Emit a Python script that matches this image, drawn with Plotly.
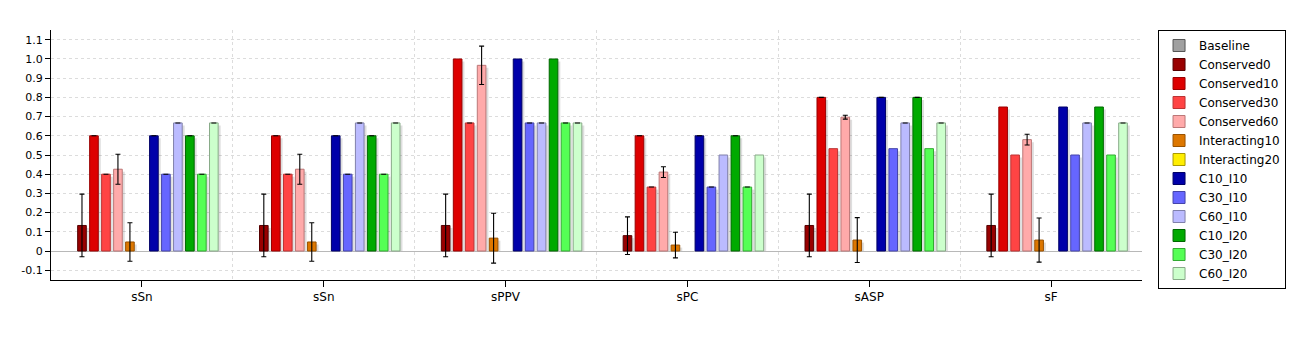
import numpy as np
import plotly.graph_objects as go

categories = ["sSn", "sSn", "sPPV", "sPC", "sASP", "sF"]
y_tick_vals = [-0.1, 0, 0.1, 0.2, 0.3, 0.4, 0.5, 0.6, 0.7, 0.8, 0.9, 1.0, 1.1]
y_tick_text = ["-0.1", "0", "0.1", "0.2", "0.3", "0.4", "0.5", "0.6", "0.7", "0.8", "0.9", "1.0", "1.1"]

baseline = [0, 0, 0, 0, 0, 0]
baseline_err = [None, None, None, None, None, None]
conserved0 = [0.133, 0.133, 0.133, 0.08, 0.133, 0.133]
conserved0_err = [0.163, 0.163, 0.163, 0.098, 0.163, 0.163]
conserved10 = [0.6, 0.6, 1.0, 0.6, 0.8, 0.75]
conserved10_err = [0, 0, None, 0, 0, None]
conserved30 = [0.4, 0.4, 0.667, 0.333, 0.533, 0.5]
conserved30_err = [0, 0, 0, 0, None, None]
conserved60 = [0.426, 0.426, 0.967, 0.411, 0.697, 0.58]
conserved60_err = [0.078, 0.078, 0.1, 0.028, 0.01, 0.028]
interacting10 = [0.047, 0.047, 0.067, 0.031, 0.057, 0.057]
interacting10_err = [0.1, 0.1, 0.13, 0.067, 0.117, 0.115]
interacting20 = [0, 0, 0, 0, 0, 0]
interacting20_err = [None, None, None, None, None, None]
c10_i10 = [0.6, 0.6, 1.0, 0.6, 0.8, 0.75]
c10_i10_err = [0, 0, None, 0, 0, None]
c30_i10 = [0.4, 0.4, 0.667, 0.333, 0.533, 0.5]
c30_i10_err = [0, 0, 0, 0, None, None]
c60_i10 = [0.667, 0.667, 0.667, 0.5, 0.667, 0.667]
c60_i10_err = [0, 0, 0, None, 0, 0]
c10_i20 = [0.6, 0.6, 1.0, 0.6, 0.8, 0.75]
c10_i20_err = [0, 0, None, 0, 0, None]
c30_i20 = [0.4, 0.4, 0.667, 0.333, 0.533, 0.5]
c30_i20_err = [0, 0, 0, 0, None, None]
c60_i20 = [0.667, 0.667, 0.667, 0.5, 0.667, 0.667]
c60_i20_err = [0, 0, 0, None, 0, 0]

series = [
    ("Baseline", baseline, baseline_err, "#a0a0a0", "#555555"),
    ("Conserved0", conserved0, conserved0_err, "#990000", "#550000"),
    ("Conserved10", conserved10, conserved10_err, "#dd0000", "#990000"),
    ("Conserved30", conserved30, conserved30_err, "#ff4444", "#bb3333"),
    ("Conserved60", conserved60, conserved60_err, "#ffaaaa", "#bb7777"),
    ("Interacting10", interacting10, interacting10_err, "#dd7700", "#995200"),
    ("Interacting20", interacting20, interacting20_err, "#ffee00", "#aa9900"),
    ("C10_I10", c10_i10, c10_i10_err, "#0000aa", "#000066"),
    ("C30_I10", c30_i10, c30_i10_err, "#6666ff", "#4444aa"),
    ("C60_I10", c60_i10, c60_i10_err, "#bbbbff", "#8080aa"),
    ("C10_I20", c10_i20, c10_i20_err, "#00aa00", "#006600"),
    ("C30_I20", c30_i20, c30_i20_err, "#55ff55", "#33aa33"),
    ("C60_I20", c60_i20, c60_i20_err, "#ccffcc", "#88aa88"),
]

x_pos = list(range(len(categories)))
FONT = "DejaVu Sans"

# group layout (in category units): 13 slots per category
group_width = 0.857
slot = group_width / len(series)
bar_w = slot * 0.72
px = 1.0 / 181.8          # one pixel in category units
shadow_dx = 2.5 * px
shadow_dy = 0.013


def drawn(vals):
    # zero-height bars are not drawn at all
    return np.array([np.nan if v == 0 else v for v in vals], dtype=float)


fig = go.Figure()

# drop shadows first so they sit underneath the bars
for i, (name, vals, errs, fill, line) in enumerate(series):
    off = -group_width / 2 + i * slot + (slot - bar_w) / 2
    fig.add_trace(go.Bar(
        x=x_pos, y=drawn([max(v - shadow_dy, 0) for v in vals]),
        offset=off + shadow_dx, width=bar_w,
        marker=dict(color="rgba(0,0,0,0.13)", line=dict(width=0)),
        showlegend=False, hoverinfo="skip",
    ))

for i, (name, vals, errs, fill, line) in enumerate(series):
    off = -group_width / 2 + i * slot + (slot - bar_w) / 2
    err_arr = np.array([np.nan if e is None else e for e in errs], dtype=float)
    fig.add_trace(go.Bar(
        name=name, x=x_pos, y=drawn(vals), offset=off, width=bar_w,
        marker=dict(color=fill, line=dict(color=line, width=1)),
        error_y=dict(type="data", array=err_arr, visible=True,
                     color="black", thickness=1.1, width=2.5),
    ))

GRID = "#dcdcdc"
fig.update_layout(
    width=1302, height=341,
    margin=dict(l=51, r=160, t=30, b=61),
    paper_bgcolor="white", plot_bgcolor="white",
    font=dict(family=FONT, size=12, color="black"),
    barmode="overlay",
    xaxis=dict(
        type="linear", range=[-0.5, 5.5], tickmode="array", tickvals=x_pos, ticktext=categories,
        showgrid=False, showline=True, linecolor="black", linewidth=1,
        ticks="outside", ticklen=6, tickcolor="black",
        tickfont=dict(size=12, family=FONT), zeroline=False,
        minor=dict(tickmode="array", tickvals=[0.5, 1.5, 2.5, 3.5, 4.5],
                   showgrid=True, gridcolor=GRID, griddash="3px,3px", gridwidth=1,
                   ticks=""),
    ),
    yaxis=dict(
        range=[-0.151, 1.151], tickmode="array", tickvals=y_tick_vals, ticktext=y_tick_text,
        showgrid=True, gridcolor=GRID, griddash="3px,3px", gridwidth=1,
        zeroline=True, zerolinecolor="#b8b8b8", zerolinewidth=1,
        showline=True, linecolor="black", linewidth=1,
        ticks="outside", ticklen=5, tickcolor="black",
        tickfont=dict(size=11, family=FONT),
    ),
    legend=dict(
        x=1.0147, xanchor="left", y=1, yanchor="top",
        bordercolor="black", borderwidth=1, bgcolor="white",
        font=dict(size=12, family=FONT), itemwidth=30,
        tracegroupgap=0, maxheight=300,
    ),
)

fig.write_html("out.html")
